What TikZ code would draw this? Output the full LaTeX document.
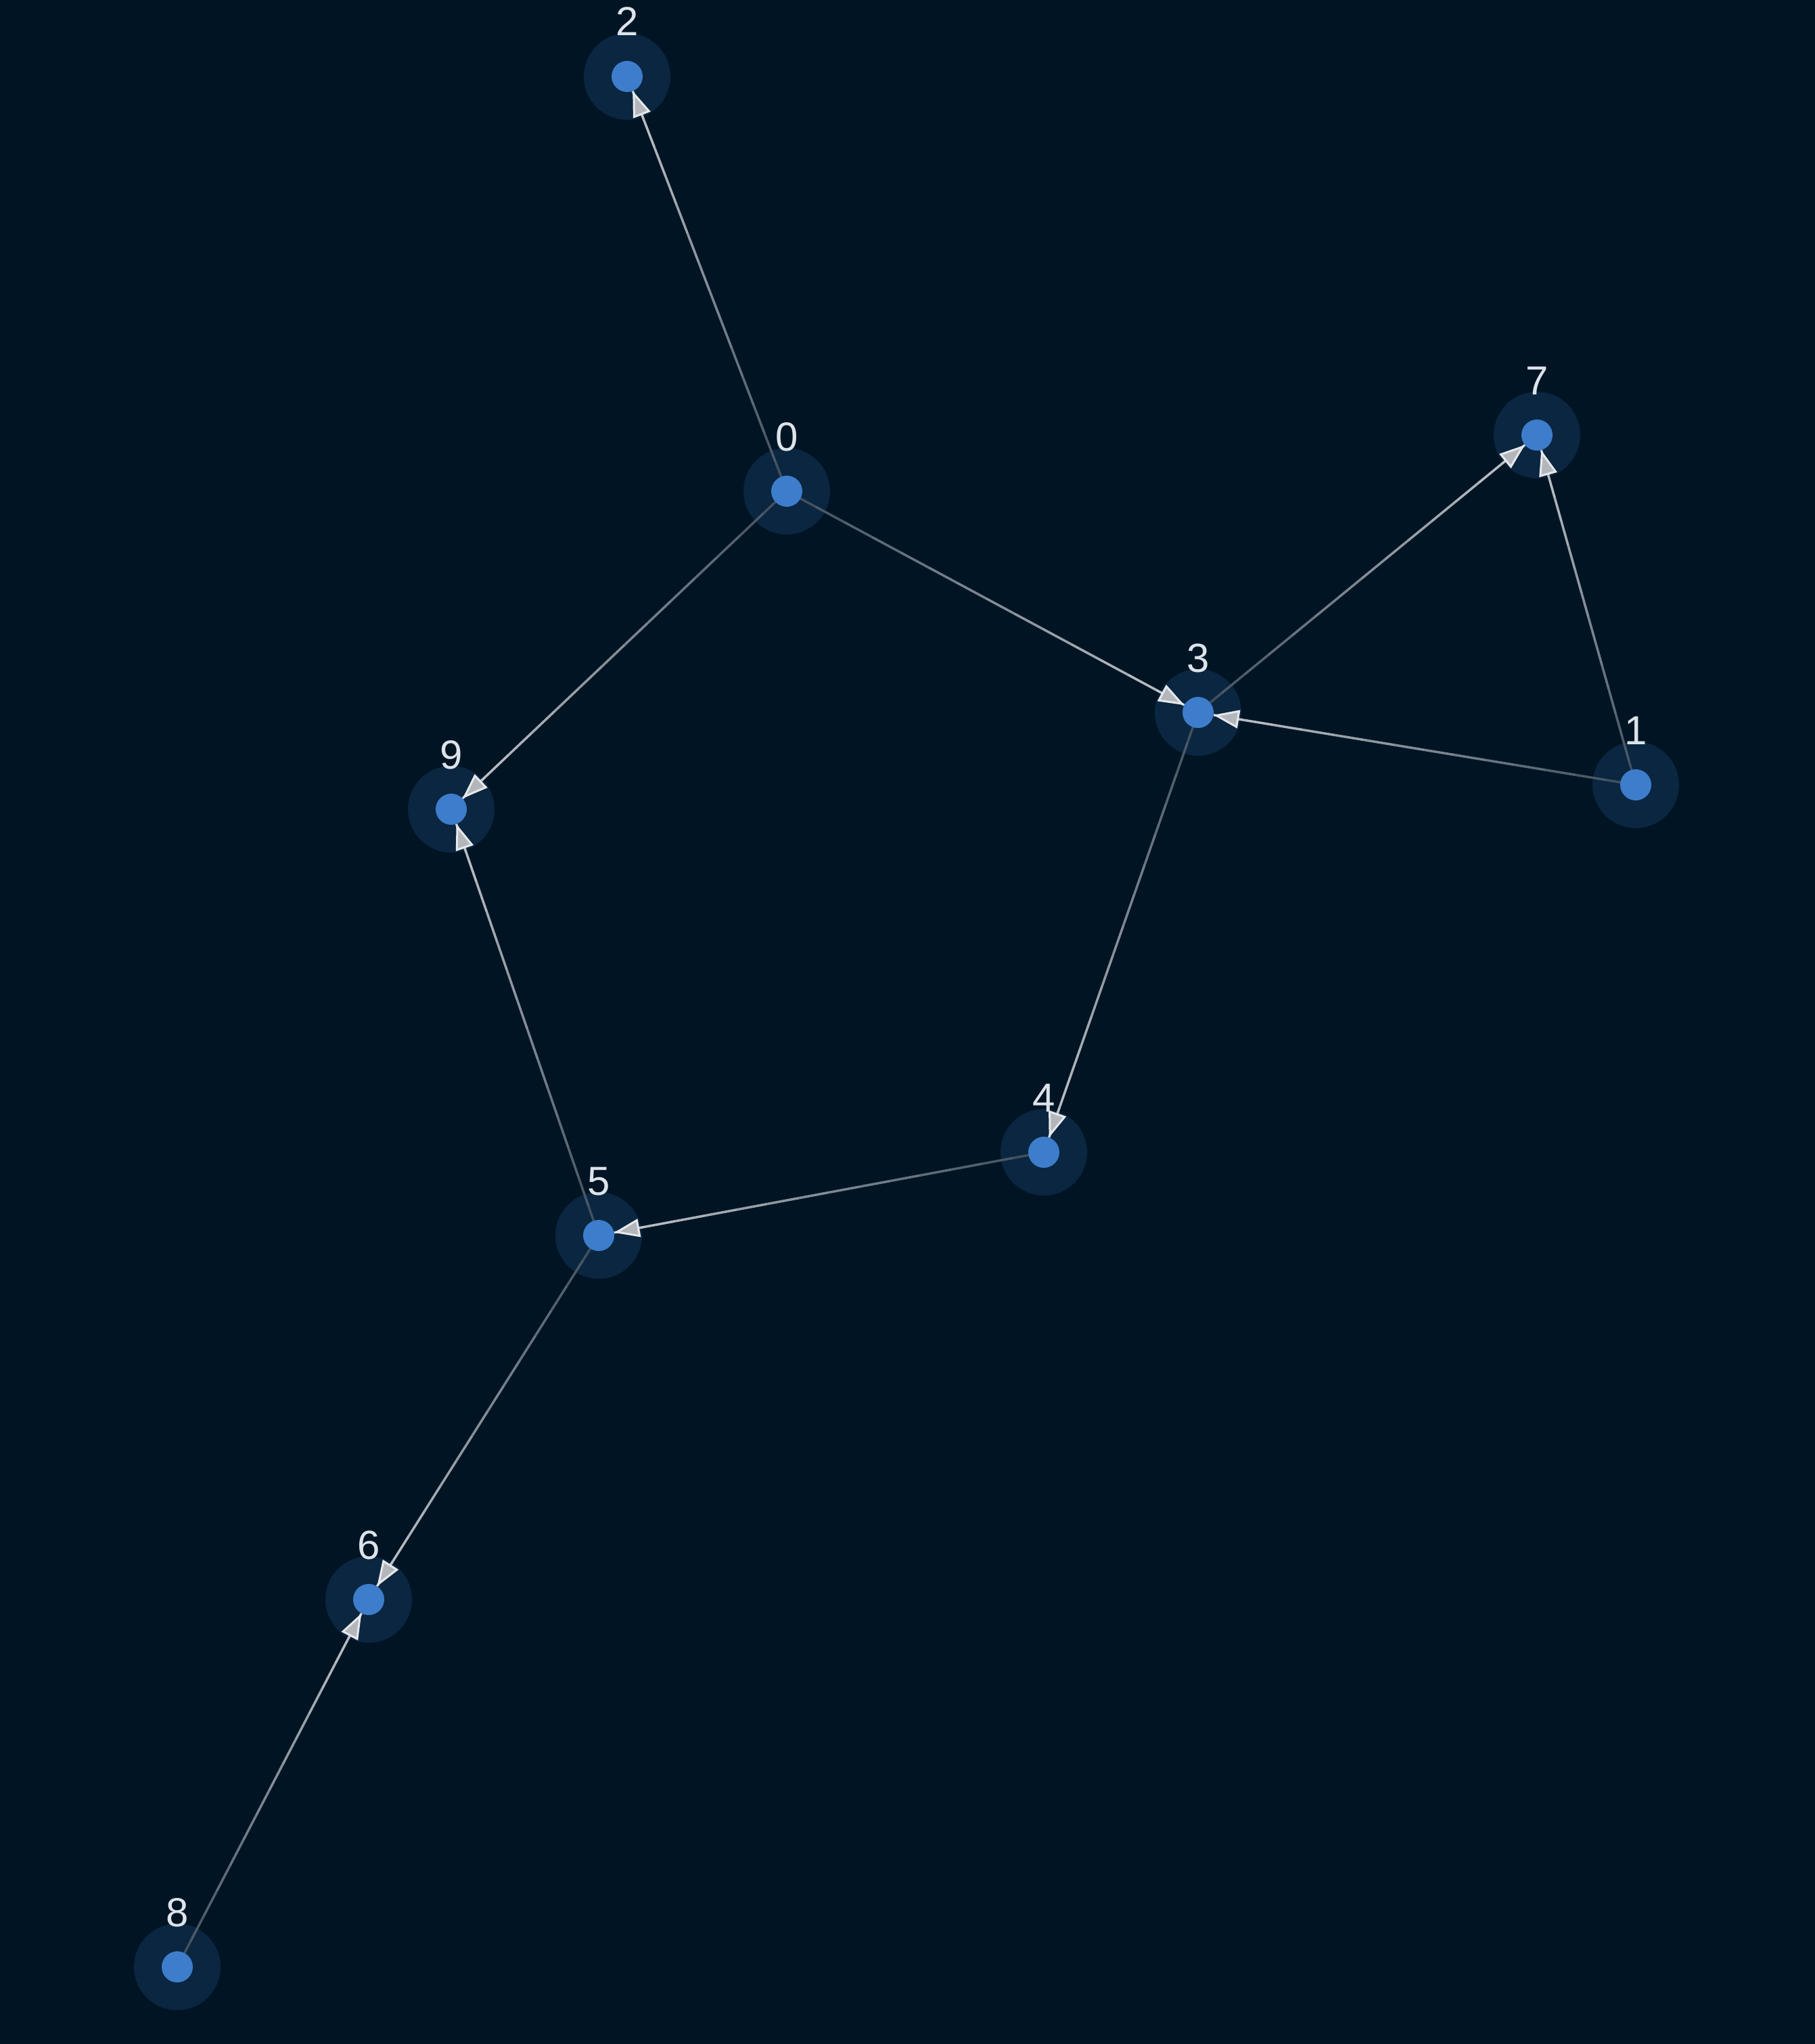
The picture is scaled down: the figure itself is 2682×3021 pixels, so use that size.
\documentclass[tikz,border=0pt]{standalone}
\usepackage{fontspec}
\setmainfont{Liberation Sans}
\usetikzlibrary{calc,arrows.meta}
\definecolor{bg}{HTML}{011424}
\definecolor{haloC}{HTML}{0A2640}
\definecolor{dotC}{HTML}{3D7DCB}
\definecolor{labC}{HTML}{DCE3EA}
\definecolor{edgeLo}{HTML}{3C4B59}
\definecolor{edgeHi}{HTML}{C4C9CE}
\definecolor{arrowFill}{HTML}{B3B7BC}
\definecolor{arrowEdge}{HTML}{E6E8EA}
\tikzset{
  halo/.style={circle,fill=haloC,minimum size=128pt,inner sep=0pt},
  dot/.style={circle,fill=dotC,minimum size=46pt,inner sep=0pt},
  lab/.style={text=labC,font=\fontsize{60}{72}\selectfont,anchor=base,inner sep=0pt},
  edgeline/.style={line width=3.5pt,line cap=butt},
  arrowline/.style={line width=3pt,draw=arrowEdge,-{Triangle[length=38pt,width=27pt,fill=arrowFill]}},
}
\newcommand\gedge[2]{%
  \coordinate (e#1#2) at ($(p#2)!23pt!(p#1)$);
  \foreach \i in {1,...,14}{%
    \pgfmathsetmacro\pc{(\i-0.5)/14*100}%
    \draw[edgeline,color=edgeHi!\pc!edgeLo] ($(p#1)!{(\i-1)/14}!(e#1#2)$) -- ($(p#1)!{\i/14}!(e#1#2)$);
  }
  \draw[arrowline] ($(p#1)!0.97!(e#1#2)$) -- (e#1#2);
}
\begin{document}
\begin{tikzpicture}[x=1pt,y=-1pt]
\useasboundingbox (0,0) rectangle (2682,3021);
\fill[bg] (-20,-20) rectangle (2702,3041);
\coordinate (p0) at (1163,726);
\coordinate (p1) at (2418,1160);
\coordinate (p2) at (927,113);
\coordinate (p3) at (1771,1053);
\coordinate (p4) at (1543,1703);
\coordinate (p5) at (885,1826);
\coordinate (p6) at (545,2364);
\coordinate (p7) at (2272,643);
\coordinate (p8) at (262,2907);
\coordinate (p9) at (667,1196);
\foreach \k in {0,...,9}{\node[halo] (h\k) at (p\k) {};}
\gedge{0}{2}
\gedge{0}{3}
\gedge{0}{9}
\gedge{3}{7}
\gedge{1}{7}
\gedge{1}{3}
\gedge{3}{4}
\gedge{4}{5}
\gedge{5}{9}
\gedge{5}{6}
\gedge{8}{6}
\foreach \k in {0,...,9}{%
  \node[dot] (d\k) at (p\k) {};
  \node[lab] (l\k) at ($(p\k)+(0,-60)$) {\k};
}
\end{tikzpicture}
\end{document}
